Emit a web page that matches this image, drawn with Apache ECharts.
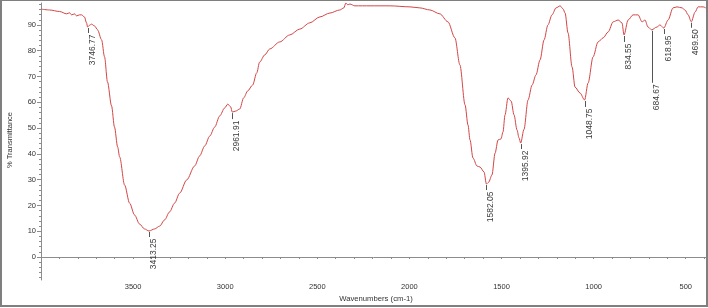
<!DOCTYPE html>
<html><head><meta charset="utf-8">
<script src="https://cdn.jsdelivr.net/npm/echarts@6/dist/echarts.min.js"></script>
<style>html,body{margin:0;padding:0;background:#fff}#c{width:708px;height:308px}</style>
</head><body><div id="c"></div>
<script>
// Spectrum (wavenumber cm-1, % transmittance)
const wavenumbers = [3996,3954,3899,3861,3845,3834,3818,3807,3791,3780,3764,3753,3747,3736,3726,3709,3693,3671,3655,3639,3617,3601,3584,3573,3546,3519,3492,3465,3438,3414,3383,3356,3329,3302,3275,3247,3209,3166,3139,3111,3084,3057,3030,3003,2986,2970,2962,2943,2921,2900,2878,2851,2829,2813,2785,2758,2704,2650,2595,2541,2486,2432,2378,2356,2345,2334,2323,2296,2214,2106,1997,1943,1889,1835,1791,1753,1726,1698,1682,1671,1655,1633,1617,1595,1582,1570,1552,1535,1519,1503,1492,1481,1465,1448,1432,1416,1405,1396,1378,1356,1334,1313,1291,1269,1248,1226,1204,1182,1166,1155,1139,1117,1101,1074,1049,1030,1003,976,948,921,894,867,846,835,813,786,759,737,721,705,685,656,640,619,596,569,547,520,504,487,470,449,433,406,391];
const transmittance = [96.1,95.8,95.2,94.3,94.7,93.9,94.3,93.5,93.9,93.9,93.1,90.8,89.2,89.9,90.3,89.6,88.1,84.2,77.6,67.9,58.6,50.4,42.7,38.8,27.9,20.9,16.3,12.8,10.9,10.1,10.9,12.0,14.4,17.5,20.9,24.8,29.9,35.3,39.2,43.1,46.9,50.4,54.7,57.8,59.3,58.2,56.2,56.6,57.4,61.7,64.4,66.7,71.4,75.6,78.4,80.7,83.4,86.1,88.4,90.8,93.1,94.6,95.8,96.6,98.5,97.8,98.1,97.4,97.4,97.4,97.0,96.6,95.8,94.3,91.2,85.0,74.5,59.0,51.2,45.4,38.4,35.3,34.9,33.0,28.3,29.0,31.8,40.3,45.4,45.8,48.5,55.1,61.7,60.5,55.1,49.3,46.2,44.2,49.5,60.9,66.7,70.6,76.4,84.2,90.0,93.9,96.6,97.4,96.2,94.6,86.9,73.7,65.9,63.6,60.9,67.5,77.6,83.4,85.0,87.3,91.2,91.9,90.8,86.1,91.9,93.9,93.9,91.2,91.9,89.2,88.1,89.2,90.0,88.8,91.9,96.6,97.0,96.6,95.8,93.9,91.2,95.0,97.0,97.0,96.6];

// Labelled peaks
const peakWavenumbers = [3746.77, 3413.25, 2961.91, 1582.05, 1395.92, 1048.75, 834.55, 684.67, 618.95, 469.50];
const peakTransmittance = [89.2, 10.1, 56.2, 28.3, 44.2, 60.9, 86.1, 88.1, 88.8, 91.2];

// Axis tick labels
const xTickLabels = [3500, 3000, 2500, 2000, 1500, 1000, 500];
const yTickLabels = [0, 10, 20, 30, 40, 50, 60, 70, 80, 90];

// styling (not data)
const peakTickLengths = [6, 6, 7, 6, 6, 7, 7, 53, 6, 6];
const FONT = '"Liberation Sans", Arial, sans-serif';
const AXIS = '#8c8c8c';

const minorX = []; for (let v = 400; v <= 4000; v += 100) minorX.push(v);
const minorY = []; for (let v = -8; v <= 98; v += 2) minorY.push(v);

const chart = echarts.init(document.getElementById('c'));
chart.setOption({
  animation: false,
  backgroundColor: '#fff',
  grid: { left: 41, right: 2, top: 3, bottom: 28 },
  xAxis: {
    type: 'value', inverse: true, min: 390, max: 4000,
    axisLine: { show: true, lineStyle: { color: AXIS, width: 1 } },
    axisTick: { show: true, customValues: minorX, length: 2, lineStyle: { color: AXIS } },
    axisLabel: { customValues: xTickLabels, formatter: v => String(v), fontSize: 7.5, color: '#333', margin: 3, fontFamily: FONT },
    splitLine: { show: false }
  },
  yAxis: [{
    type: 'value', min: -8.9, max: 98.5, position: 'left',
    axisLine: { show: true, lineStyle: { color: AXIS, width: 1 } },
    axisTick: { show: true, customValues: minorY, length: 2, lineStyle: { color: AXIS } },
    axisLabel: { customValues: yTickLabels, formatter: v => String(v), fontSize: 7.5, color: '#333', margin: 5, fontFamily: FONT },
    splitLine: { show: false }
  }, {
    type: 'value', min: -8.9, max: 98.5, position: 'left',
    axisLine: { show: false },
    axisTick: { show: true, customValues: yTickLabels, length: 4, lineStyle: { color: AXIS } },
    axisLabel: { show: false },
    splitLine: { show: false }
  }],
  graphic: [
    { type: 'rect', shape: { x: 1, y: 0, width: 706, height: 306 }, style: { fill: 'none', stroke: '#7f7f7f', lineWidth: 2 }, silent: true },
    { type: 'text', x: 10, y: 140, rotation: Math.PI / 2, style: { text: '% Transmittance', fontSize: 7.5, fill: '#333', fontFamily: FONT, align: 'center', verticalAlign: 'middle' } },
    { type: 'text', x: 376, y: 299, style: { text: 'Wavenumbers (cm-1)', fontSize: 7.7, fill: '#333', fontFamily: FONT, align: 'center', verticalAlign: 'middle' } }
  ],
  series: [{
    type: 'line',
    data: wavenumbers.map((w, i) => [w, transmittance[i]]),
    showSymbol: false, symbol: 'none',
    smooth: 0.3, smoothMonotone: 'x',
    lineStyle: { color: '#d24646', width: 1 },
    clip: true
  }, {
    type: 'custom',
    data: peakWavenumbers.map((w, i) => [w, peakTransmittance[i], i]),
    renderItem: function (params, api) {
      const p = api.coord([api.value(0), api.value(1)]);
      const i = api.value(2);
      const len = peakTickLengths[i];
      const x = Math.round(p[0]) + 0.5;
      return {
        type: 'group',
        children: [
          { type: 'line', shape: { x1: x, y1: p[1] + 1, x2: x, y2: p[1] + len }, style: { stroke: '#555', lineWidth: 1 } },
          { type: 'text', x: x + 4, y: p[1] + len + 1.5, rotation: Math.PI / 2,
            style: { text: peakWavenumbers[i].toFixed(2), fontSize: 8.5, fill: '#3a3a3a', fontFamily: FONT, align: 'right', verticalAlign: 'middle' } }
        ]
      };
    }
  }]
});
</script></body></html>
